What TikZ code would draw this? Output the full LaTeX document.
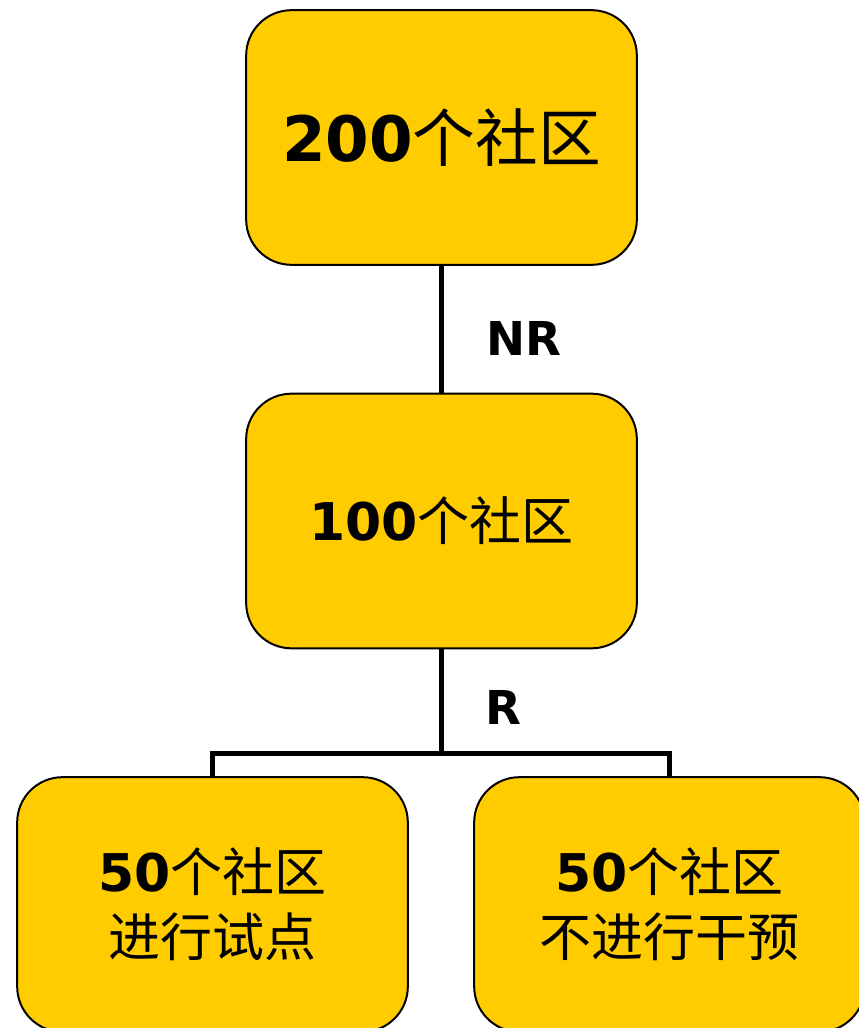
\documentclass[tikz,border=0pt]{standalone}
\usepackage{fontspec}
\usepackage{xcolor}
\usepackage{tikz}
\usetikzlibrary{shapes,positioning}

\newfontfamily\numfont{DejaVu Sans}
\newfontfamily\cjk{Noto Sans CJK SC}
\definecolor{boxyellow}{HTML}{FFCC00}

\tikzset{
    groupbox/.style={
        draw,
        line width=1.5pt,
        rounded corners=34pt,
        fill=boxyellow,
        minimum width=293pt,
        minimum height=191pt,
        align=center,
        inner sep=0pt
    },
    link/.style={
        line width=3.5pt
    },
    tag/.style={
        font=\numfont\bfseries\fontsize{35}{35}\selectfont
    }
}

\begin{document}
\begin{tikzpicture}[x=0.75pt,y=-0.75pt]
                \useasboundingbox (0,0) rectangle (859,1028);
                \clip (0,0) rectangle (859,1028);

                % communities at each stage
                \node[groupbox] (all) at (441.5,137.5)
                    {{\numfont\bfseries\fontsize{47}{47}\selectfont 200}{\cjk\fontsize{47}{47}\selectfont 个社区}};
                \node[groupbox] (half) at (441.5,521)
                    {{\numfont\bfseries\fontsize{39}{39}\selectfont 100}{\cjk\fontsize{39}{39}\selectfont 个社区}};
                \node[groupbox,font=\fontsize{39}{49}\selectfont] (pilot) at (212.5,904.5)
                    {{\numfont\bfseries 50}{\cjk 个社区}\\{\cjk 进行试点}};
                \node[groupbox,font=\fontsize{39}{49}\selectfont] (control) at (669.5,904.5)
                    {{\numfont\bfseries 50}{\cjk 个社区}\\{\cjk 不进行干预}};

                \draw[link] (all) -- (half);
                \draw[link] (half.south) -- ++(0,104) coordinate (split);
                \draw[link] (split) -| (pilot.north);
                \draw[link] (split) -| (control.north);

                \node[tag] (nr) at (524,338) {NR};
                \node[tag] (r) at (503,707) {R};

            \end{tikzpicture}
\end{document}
